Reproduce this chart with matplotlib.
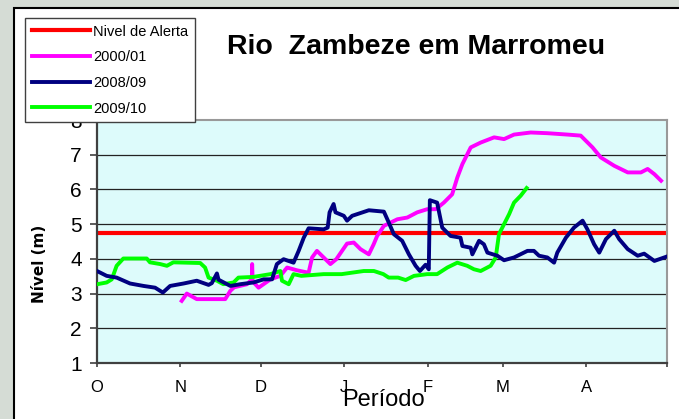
import matplotlib
matplotlib.use("Agg")
import matplotlib.pyplot as plt
from matplotlib.patches import Rectangle

plt.rcParams['font.family'] = ['Liberation Sans', 'DejaVu Sans']

# ---- data (x = days since 1 October) ----
month_ticks = [0, 31, 61, 92, 123, 151, 182, 212]
month_labels = ['O', 'N', 'D', 'J', 'F', 'M', 'A', '']

alert_x = [0, 212]
alert_y = [4.75, 4.75]

s0001_x = [31.5, 33.4, 37.1, 47.7, 49.6, 51, 55.8, 57.6, 57.7, 57.9, 60.1, 64.5, 68.2, 70.7,
           74.4, 78.7, 80, 81.8, 84.3, 86.8, 89, 93, 95.5, 98, 101.1, 102.9, 104.2, 106.7,
           111.7, 115.4, 119.1, 122.8, 126, 129, 132.1, 134, 135.9, 139, 142.7, 147.7,
           151.4, 155.1, 161.3, 167.5, 175, 179.9, 184.3, 187.4, 192.4, 197.4, 202.3,
           204.8, 207.3, 209.8]
s0001_y = [2.79, 3.00, 2.84, 2.84, 3.08, 3.18, 3.27, 3.41, 3.85, 3.35, 3.17, 3.41, 3.51, 3.75,
           3.67, 3.60, 4.04, 4.23, 4.04, 3.85, 3.99, 4.44, 4.47, 4.28, 4.13, 4.42, 4.66, 4.95,
           5.14, 5.19, 5.34, 5.43, 5.43, 5.62, 5.86, 6.34, 6.73, 7.21, 7.35, 7.50,
           7.45, 7.58, 7.64, 7.62, 7.58, 7.55, 7.21, 6.92, 6.68, 6.49, 6.49,
           6.59, 6.44, 6.25]

s0809_x = [0, 3.6, 7.3, 12.3, 17.3, 21.6, 24.5, 27.2, 32.2, 37.1, 41.5, 42.7, 44.6, 45.2,
           49.6, 53.3, 58.2, 62, 65.1, 66.9, 69.4, 73.1, 75, 76.9, 78.7, 84.3, 85.8, 86.5,
           88, 88.7, 91.8, 93, 94.9, 101.1, 106.7, 108.5, 110.4, 113.5, 116, 118.5, 120.1,
           122.2, 123.4, 123.8, 126.5, 128.4, 131.5, 135.2, 135.9, 139, 139.6, 142.1, 143.9,
           145.2, 148.9, 151.4, 155.1, 160.1, 162.5, 164.4, 167.5, 170, 171.2, 174.4, 177.4,
           180.6, 182.4, 184.9, 186.8, 189.3, 192.4, 194.2, 197.4, 201.1, 203.5, 207.3, 211.7]
s0809_y = [3.65, 3.51, 3.46, 3.29, 3.22, 3.17, 3.03, 3.22, 3.29, 3.37, 3.25, 3.30, 3.58, 3.40,
           3.22, 3.27, 3.32, 3.41, 3.41, 3.85, 3.99, 3.89, 4.23, 4.61, 4.88, 4.85, 4.90, 5.34,
           5.58, 5.34, 5.24, 5.10, 5.24, 5.40, 5.36, 5.05, 4.71, 4.52, 4.13, 3.80, 3.65,
           3.83, 3.70, 5.69, 5.62, 4.90, 4.66, 4.61, 4.37, 4.32, 4.13, 4.52, 4.42,
           4.18, 4.09, 3.96, 4.04, 4.23, 4.23, 4.09, 4.04, 3.89, 4.18, 4.61, 4.90,
           5.10, 4.85, 4.42, 4.18, 4.57, 4.81, 4.57, 4.28, 4.09, 4.15, 3.94, 4.06]

s0910_x = [0.1, 3.6, 5.5, 7.3, 9.8, 18.5, 19.7, 23.5, 26, 28.4, 38.4, 40.2, 41.5, 44.6, 47,
           50.8, 52.6, 58.2, 64.5, 68.2, 68.8, 71.3, 73.1, 76, 84.3, 91, 99.2, 103, 106.5,
           108.5, 112, 114.8, 117.9, 122.8, 126.5, 130.3, 134, 137.7, 140.2, 142.7, 146.4,
           148.3, 149.5, 151.4, 153.3, 155.1, 157.6, 159.8]
s0910_y = [3.27, 3.32, 3.41, 3.80, 4.01, 4.01, 3.90, 3.85, 3.80, 3.90, 3.88, 3.75, 3.46, 3.37, 3.27,
           3.32, 3.46, 3.48, 3.56, 3.65, 3.37, 3.27, 3.56, 3.51, 3.56, 3.56, 3.65, 3.65, 3.56,
           3.46, 3.46, 3.39, 3.51, 3.56, 3.56, 3.75, 3.89, 3.80, 3.70, 3.65, 3.80,
           4.04, 4.71, 5.00, 5.29, 5.62, 5.82, 6.04]

W, H = 679, 419
fig = plt.figure(figsize=(W / 100, H / 100), dpi=100)
fig.patch.set_facecolor('#D5DCD5')

# white chart area with black border (top/left)
fig.patches.append(Rectangle((14 / W, -0.05), 1.05, (1 - 8 / H) + 0.05,
                             transform=fig.transFigure, facecolor='white',
                             edgecolor='black', linewidth=1.5, zorder=-5))

ax = fig.add_axes([97 / W, 1 - 363 / H, (667 - 97) / W, (363 - 120) / H])
ax.set_facecolor('#DDFBFB')

for v in range(2, 8):
    ax.axhline(v, color='#222222', linewidth=0.9, zorder=1)

ax.plot(alert_x, alert_y, color='#FF0000', linewidth=3.0, label='Nivel de Alerta', zorder=2)
ax.plot(s0001_x, s0001_y, color='#FF00FF', linewidth=2.8, label='2000/01', zorder=3,
        solid_joinstyle='round')
ax.plot(s0809_x, s0809_y, color='#000080', linewidth=2.8, label='2008/09', zorder=5,
        solid_joinstyle='round')
ax.plot(s0910_x, s0910_y, color='#00FF00', linewidth=2.8, label='2009/10', zorder=4,
        solid_joinstyle='round')

ax.set_xlim(0, 212)
ax.set_ylim(1, 8)
ax.set_yticks(range(1, 9))
ax.set_xticks(month_ticks)
ax.set_xticklabels(month_labels)
ax.tick_params(axis='y', labelsize=15, length=5, pad=6, width=1.2, color='#404040')
ax.tick_params(axis='x', labelsize=12, length=3, pad=9, width=1.2, color='#404040')

for side in ['left', 'bottom']:
    ax.spines[side].set_color('#404040')
    ax.spines[side].set_linewidth(1.6)
for side in ['top', 'right']:
    ax.spines[side].set_color('#999999')
    ax.spines[side].set_linewidth(1.5)

fig.text(416 / W, 1 - 47 / H, 'Rio  Zambeze em Marromeu', ha='center', va='center',
         fontsize=20.5, fontweight='bold')
fig.text(383 / W, 1 - 400 / H, 'Período', ha='center', va='center', fontsize=17)
fig.text(40 / W, 1 - 264 / H, 'Nível (m)', ha='center', va='center', rotation=90,
         fontsize=11, fontweight='bold', family='DejaVu Sans')

leg = fig.legend(loc='upper left', bbox_to_anchor=(25 / W, 1 - 18 / H),
                 bbox_transform=fig.transFigure, borderaxespad=0, fontsize=10.5,
                 frameon=True, fancybox=False, framealpha=1, edgecolor='#404040',
                 handlelength=4.0, handletextpad=0.2, borderpad=0.45, labelspacing=0.8)
leg.get_frame().set_linewidth(1.0)

fig.savefig('out.png', dpi=100, facecolor=fig.get_facecolor())
